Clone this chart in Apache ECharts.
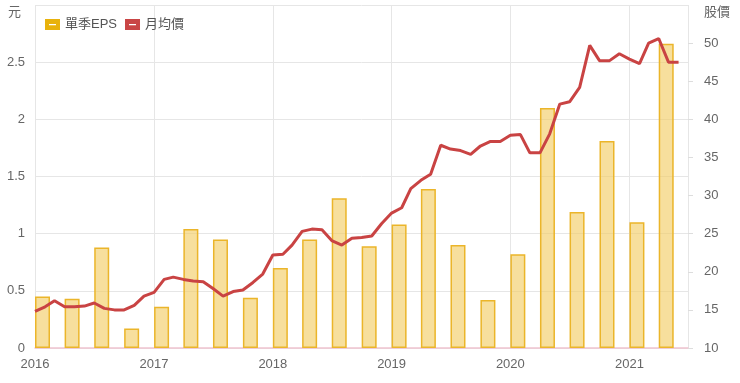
<!DOCTYPE html>
<html>
<head>
<meta charset="utf-8">
<script src="https://cdn.jsdelivr.net/npm/echarts@6/dist/echarts.min.js"></script>
<style>html,body{margin:0;padding:0;background:#fff}#c{width:740px;height:383px}</style>
</head>
<body>
<div id="c"></div>
<script>
// Quarterly EPS (元), one bar per quarter starting on its first day
const quarters = ['2016-01-01','2016-04-01','2016-07-01','2016-10-01',
  '2017-01-01','2017-04-01','2017-07-01','2017-10-01',
  '2018-01-01','2018-04-01','2018-07-01','2018-10-01',
  '2019-01-01','2019-04-01','2019-07-01','2019-10-01',
  '2020-01-01','2020-04-01','2020-07-01','2020-10-01',
  '2021-01-01','2021-04-01'];
const eps = [0.45,0.43,0.88,0.17, 0.36,1.04,0.95,0.44, 0.70,0.95,1.31,0.89,
  1.08,1.39,0.90,0.42, 0.82,2.10,1.19,1.81, 1.10,2.66];

// Monthly average price (股價), 2016-01 .. 2021-06
const months = [];
for (let y = 2016; y <= 2021; y++) {
  for (let m = 1; m <= 12; m++) {
    if (y === 2021 && m > 6) break;
    months.push(y + '-' + String(m).padStart(2, '0') + '-01');
  }
}
const price = [14.8,15.4,16.2,15.4,15.4,15.5,15.9,15.2,15.0,15.0,15.6,16.8,
  17.3,19.0,19.3,19.0,18.8,18.7,17.8,16.8,17.4,17.6,18.6,19.7,
  22.2,22.3,23.5,25.3,25.6,25.5,24.1,23.5,24.4,24.5,24.7,26.3,
  27.7,28.4,30.9,32.0,32.8,36.6,36.1,35.9,35.4,36.5,37.1,37.1,
  37.9,38.0,35.6,35.6,38.1,42.0,42.3,44.2,49.7,47.7,47.7,48.6,
  47.9,47.3,50.0,50.6,47.5,47.5];

const seriesNames = ['單季EPS', '月均價'];
const leftName = '元';
const rightName = '股價';
const xStart = '2016-01-01';
const xEnd = '2021-06-30';

const FONT = "'Liberation Sans','Noto Sans CJK TC',sans-serif";
const LABEL = '#666';
const DAY = 24 * 3600 * 1000;
const iconPath = 'path://M0,0H15V11H0Z M4,5V6.2H11V5Z';
const ts = s => Date.parse(s + 'T00:00:00');

const chart = echarts.init(document.getElementById('c'));
chart.setOption({
  animation: false,
  textStyle: { fontFamily: FONT },
  grid: { left: 35, right: 52, top: 5, bottom: 35 },
  legend: {
    left: 40, top: 13,
    itemWidth: 15, itemHeight: 11, itemGap: 8,
    textStyle: { color: '#555', fontSize: 13, fontFamily: FONT },
    data: [
      { name: seriesNames[0], icon: iconPath, itemStyle: { color: '#e8b20c', borderWidth: 0 } },
      { name: seriesNames[1], icon: iconPath, itemStyle: { color: '#c94545', borderWidth: 0 } }
    ]
  },
  xAxis: [{
    type: 'time',
    min: ts(xStart), max: ts(xEnd),
    minInterval: 365 * DAY, maxInterval: 366 * DAY,
    axisLine: { lineStyle: { color: '#f0c4d0', width: 1.5 } },
    axisTick: { show: false },
    splitLine: { show: true, lineStyle: { color: '#e6e6e6' } },
    axisLabel: {
      color: LABEL, fontSize: 13, margin: 10, fontFamily: FONT,
      formatter: v => String(new Date(v).getFullYear())
    }
  }, {
    type: 'value', show: false,
    min: ts(xStart), max: ts(xEnd),
    splitLine: { show: false }
  }],
  yAxis: [{
    type: 'value', min: 0, max: 3, interval: 0.5,
    name: leftName, nameLocation: 'end', nameGap: -7,
    nameTextStyle: { color: LABEL, fontSize: 13, align: 'right', verticalAlign: 'middle', padding: [0, 14, 0, 0], fontFamily: FONT },
    axisLine: { show: false }, axisTick: { show: false },
    splitLine: { lineStyle: { color: '#e6e6e6' } },
    axisLabel: { color: LABEL, fontSize: 13, margin: 10, showMaxLabel: false, fontFamily: FONT }
  }, {
    type: 'value', min: 10, max: 55, interval: 5,
    name: rightName, nameLocation: 'end', nameGap: -7,
    nameTextStyle: { color: LABEL, fontSize: 13, align: 'left', verticalAlign: 'middle', padding: [0, 0, 0, 16], fontFamily: FONT },
    axisLine: { show: false },
    axisTick: { show: true, length: 5, lineStyle: { color: '#dddddd' } },
    splitLine: { show: false },
    axisLabel: { color: LABEL, fontSize: 13, margin: 16, showMaxLabel: false, fontFamily: FONT }
  }],
  series: [{
    name: '_spacer', type: 'bar', xAxisIndex: 1, yAxisIndex: 0, barWidth: 15, barGap: '0%',
    silent: true, itemStyle: { color: 'rgba(0,0,0,0)' },
    data: quarters.map(q => [ts(q), null])
  }, {
    name: seriesNames[0], type: 'bar', xAxisIndex: 1, yAxisIndex: 0, barWidth: 15, barGap: '0%',
    itemStyle: { color: 'rgba(243,206,104,0.65)', borderColor: '#ebb52a', borderWidth: 1.5 },
    data: quarters.map((q, i) => [ts(q), eps[i]])
  }, {
    name: seriesNames[1], type: 'line', xAxisIndex: 0, yAxisIndex: 1,
    showSymbol: false, symbol: 'none',
    lineStyle: { color: '#c94343', width: 3 },
    itemStyle: { color: '#c94343' },
    data: months.map((d, i) => [ts(d), price[i]])
  }]
});
</script>
</body>
</html>
